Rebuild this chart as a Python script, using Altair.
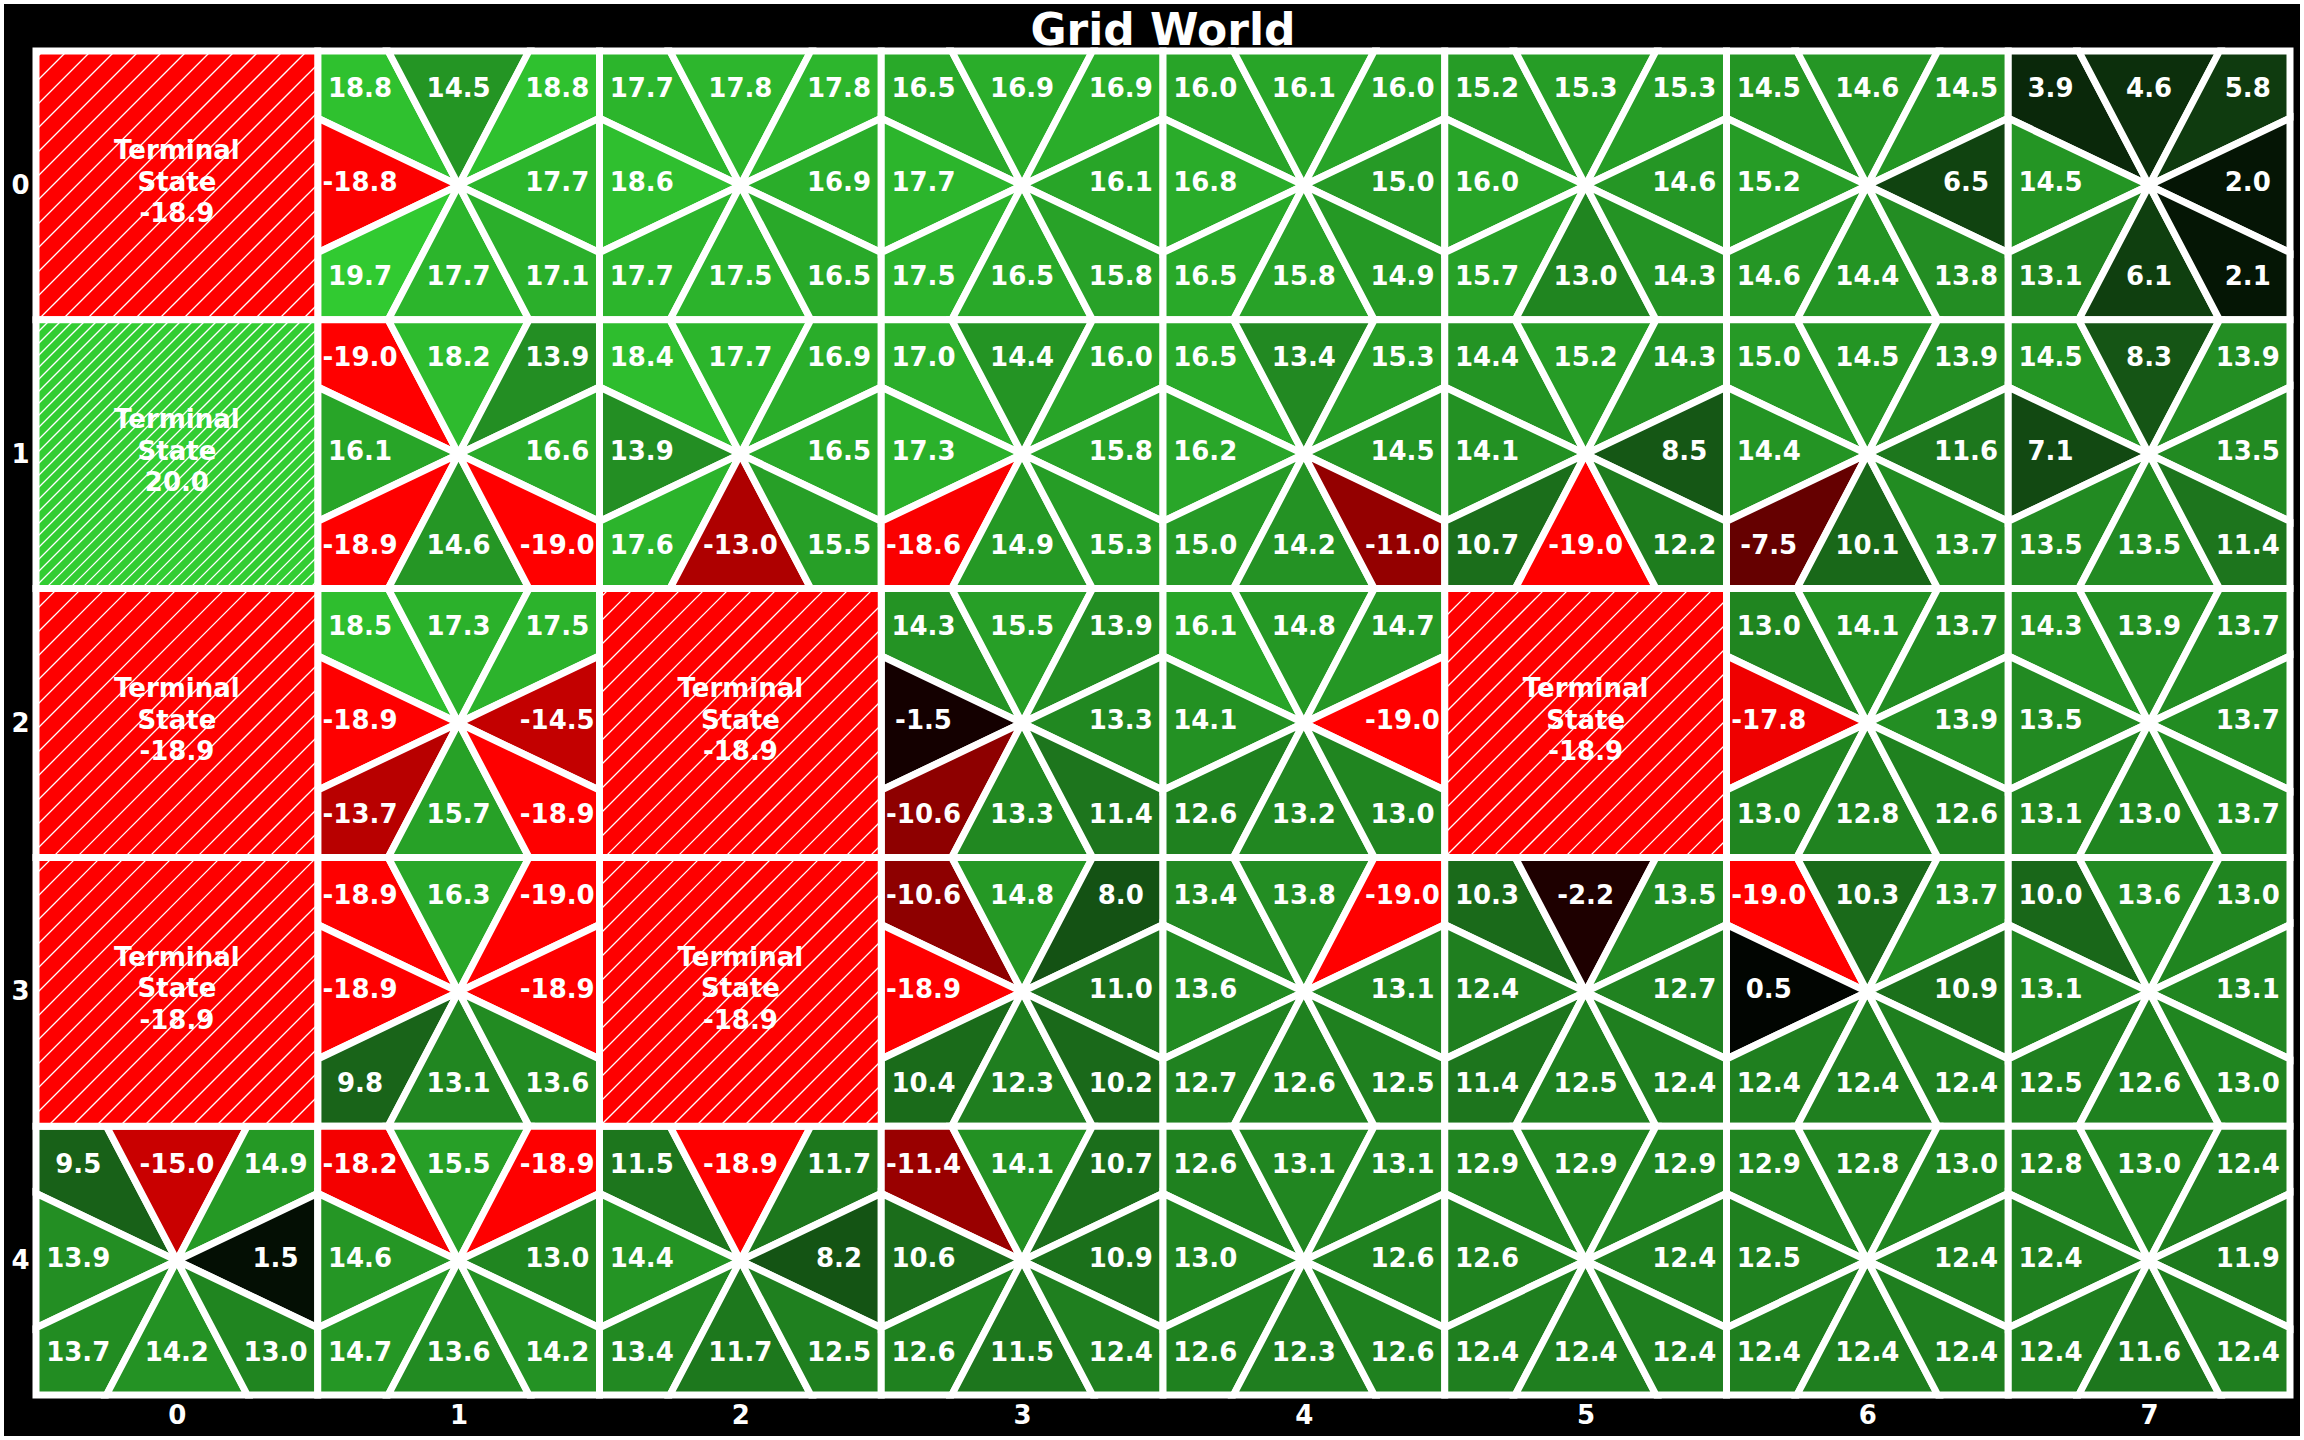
import altair as alt
import pandas as pd

# ---- data: value of each of the 8 regions of a cell, order TL, T, TR, L, R, BL, B, BR ----
# None marks a terminal cell
row_0 = [None,
         [18.8, 14.5, 18.8, -18.8, 17.7, 19.7, 17.7, 17.1],
         [17.7, 17.8, 17.8, 18.6, 16.9, 17.7, 17.5, 16.5],
         [16.5, 16.9, 16.9, 17.7, 16.1, 17.5, 16.5, 15.8],
         [16.0, 16.1, 16.0, 16.8, 15.0, 16.5, 15.8, 14.9],
         [15.2, 15.3, 15.3, 16.0, 14.6, 15.7, 13.0, 14.3],
         [14.5, 14.6, 14.5, 15.2, 6.5, 14.6, 14.4, 13.8],
         [3.9, 4.6, 5.8, 14.5, 2.0, 13.1, 6.1, 2.1]]
row_1 = [None,
         [-19.0, 18.2, 13.9, 16.1, 16.6, -18.9, 14.6, -19.0],
         [18.4, 17.7, 16.9, 13.9, 16.5, 17.6, -13.0, 15.5],
         [17.0, 14.4, 16.0, 17.3, 15.8, -18.6, 14.9, 15.3],
         [16.5, 13.4, 15.3, 16.2, 14.5, 15.0, 14.2, -11.0],
         [14.4, 15.2, 14.3, 14.1, 8.5, 10.7, -19.0, 12.2],
         [15.0, 14.5, 13.9, 14.4, 11.6, -7.5, 10.1, 13.7],
         [14.5, 8.3, 13.9, 7.1, 13.5, 13.5, 13.5, 11.4]]
row_2 = [None,
         [18.5, 17.3, 17.5, -18.9, -14.5, -13.7, 15.7, -18.9],
         None,
         [14.3, 15.5, 13.9, -1.5, 13.3, -10.6, 13.3, 11.4],
         [16.1, 14.8, 14.7, 14.1, -19.0, 12.6, 13.2, 13.0],
         None,
         [13.0, 14.1, 13.7, -17.8, 13.9, 13.0, 12.8, 12.6],
         [14.3, 13.9, 13.7, 13.5, 13.7, 13.1, 13.0, 13.7]]
row_3 = [None,
         [-18.9, 16.3, -19.0, -18.9, -18.9, 9.8, 13.1, 13.6],
         None,
         [-10.6, 14.8, 8.0, -18.9, 11.0, 10.4, 12.3, 10.2],
         [13.4, 13.8, -19.0, 13.6, 13.1, 12.7, 12.6, 12.5],
         [10.3, -2.2, 13.5, 12.4, 12.7, 11.4, 12.5, 12.4],
         [-19.0, 10.3, 13.7, 0.5, 10.9, 12.4, 12.4, 12.4],
         [10.0, 13.6, 13.0, 13.1, 13.1, 12.5, 12.6, 13.0]]
row_4 = [[9.5, -15.0, 14.9, 13.9, 1.5, 13.7, 14.2, 13.0],
         [-18.2, 15.5, -18.9, 14.6, 13.0, 14.7, 13.6, 14.2],
         [11.5, -18.9, 11.7, 14.4, 8.2, 13.4, 11.7, 12.5],
         [-11.4, 14.1, 10.7, 10.6, 10.9, 12.6, 11.5, 12.4],
         [12.6, 13.1, 13.1, 13.0, 12.6, 12.6, 12.3, 12.6],
         [12.9, 12.9, 12.9, 12.6, 12.4, 12.4, 12.4, 12.4],
         [12.9, 12.8, 13.0, 12.5, 12.4, 12.4, 12.4, 12.4],
         [12.8, 13.0, 12.4, 12.4, 11.9, 12.4, 11.6, 12.4]]
rows = [row_0, row_1, row_2, row_3, row_4]

terminal_cells = [(0, 0), (1, 0), (2, 0), (2, 2), (2, 5), (3, 0), (3, 2)]
terminal_values = [-18.9, 20.0, -18.9, -18.9, -18.9, -18.9, -18.9]

col_ticks = [0, 1, 2, 3, 4, 5, 6, 7]
row_ticks = [0, 1, 2, 3, 4]
title_text = "Grid World"

# ---- layout (pixels) ----
W, H = 2254, 1344
PAD_L, PAD_T = 36, 51
PAD_R, PAD_B = 2304 - PAD_L - W, 1440 - PAD_T - H
NC, NR = len(col_ticks), len(row_ticks)
sx, sy = W / NC, H / NR
FONT = "DejaVu Sans"

# region geometry (outer vertices relative to cell centre), same order as values
regions = [
    [(-0.5, -0.25), (-0.5, -0.5), (-0.25, -0.5)],   # TL
    [(-0.25, -0.5), (0.25, -0.5)],                  # T
    [(0.25, -0.5), (0.5, -0.5), (0.5, -0.25)],      # TR
    [(-0.5, 0.25), (-0.5, -0.25)],                  # L
    [(0.5, -0.25), (0.5, 0.25)],                    # R
    [(-0.25, 0.5), (-0.5, 0.5), (-0.5, 0.25)],      # BL
    [(0.25, 0.5), (-0.25, 0.5)],                    # B
    [(0.5, 0.25), (0.5, 0.5), (0.25, 0.5)],         # BR
]
label_dirs = [(-1, -1), (0, -1), (1, -1), (-1, 0), (1, 0), (-1, 1), (0, 1), (1, 1)]
LOFF = 0.35

poly_rows, text_rows, term_rows, hatch_rows = [], [], [], []
pid = 0
for r, row in enumerate(rows):
    for c, cell in enumerate(row):
        if cell is None:
            continue
        for i, v in enumerate(cell):
            pts = [(0.0, 0.0)] + regions[i] + [(0.0, 0.0)]
            for k, (dx, dy) in enumerate(pts):
                poly_rows.append({"x": c + dx, "y": r + dy, "k": k, "pid": pid, "val": v})
            pid += 1
            ldx, ldy = label_dirs[i]
            text_rows.append({"x": c + ldx * LOFF, "y": r + ldy * LOFF, "label": f"{v:.1f}"})

for (r, c), v in zip(terminal_cells, terminal_values):
    pts = [(-0.5, -0.5), (0.5, -0.5), (0.5, 0.5), (-0.5, 0.5), (-0.5, -0.5)]
    for k, (dx, dy) in enumerate(pts):
        poly_rows.append({"x": c + dx, "y": r + dy, "k": k, "pid": pid, "val": v})
    pid += 1
    term_rows.append({"x": c, "y": r, "label": f"Terminal\nState\n{v:.1f}"})
    # hatch lines at 45 degrees in pixel space
    spacing = 12 if v > 0 else 24
    X0, X1 = PAD_L + c * sx, PAD_L + (c + 1) * sx
    Y0, Y1 = PAD_T + r * sy, PAD_T + (r + 1) * sy
    C = (int((X0 + Y0) // spacing) + 1) * spacing - 2
    while C < X1 + Y1:
        if C > X0 + Y0:
            if C - Y1 >= X0:
                ax, ay = C - Y1, Y1
            else:
                ax, ay = X0, C - X0
            if C - Y0 <= X1:
                bx, by = C - Y0, Y0
            else:
                bx, by = X1, C - X1
            hatch_rows.append({
                "x": (ax - PAD_L) / sx - 0.5, "y": (ay - PAD_T) / sy - 0.5,
                "x2": (bx - PAD_L) / sx - 0.5, "y2": (by - PAD_T) / sy - 0.5,
            })
        C += spacing

poly_df = pd.DataFrame(poly_rows)
text_df = pd.DataFrame(text_rows)
term_df = pd.DataFrame(term_rows)
hatch_df = pd.DataFrame(hatch_rows)

xscale = alt.Scale(domain=[-0.5, 7.5], nice=False, zero=False)
yscale = alt.Scale(domain=[-0.5, 4.5], nice=False, zero=False, reverse=True)
axis_common = dict(labelFont=FONT, labelFontSize=26, labelFontWeight="bold",
                   labelColor="white", ticks=False, tickSize=0, domain=False,
                   grid=False, title=None, labelPadding=7, zindex=1,
                   labelFlush=False, labelOverlap=False, format="d")
xaxis = alt.Axis(values=col_ticks, **axis_common)
yaxis = alt.Axis(values=row_ticks, **axis_common)

one = pd.DataFrame({"a": [0]})
backdrop = alt.Chart(one).mark_rect(color="black").encode(
    x=alt.value(-(PAD_L - 4)), x2=alt.value(W + PAD_R - 4),
    y=alt.value(-(PAD_T - 4)), y2=alt.value(H + PAD_B - 4),
)

polys = alt.Chart(poly_df).mark_line(
    stroke="white", strokeWidth=7, strokeJoin="miter", strokeCap="square"
).encode(
    x=alt.X("x:Q", scale=xscale, axis=xaxis),
    y=alt.Y("y:Q", scale=yscale, axis=yaxis),
    detail="pid:N",
    order="k:Q",
    fill=alt.Fill("val:Q", legend=None,
                  scale=alt.Scale(domain=[-19.0, 0.0, 20.0],
                                  range=["#ff0000", "#000000", "#32cd32"],
                                  interpolate="rgb")),
)

hatch = alt.Chart(hatch_df).mark_rule(color="white", strokeWidth=1.3).encode(
    x=alt.X("x:Q", scale=xscale), y=alt.Y("y:Q", scale=yscale), x2="x2:Q", y2="y2:Q"
)

texts = alt.Chart(text_df).mark_text(
    font=FONT, fontSize=26, fontWeight="bold", color="white",
    align="center", baseline="middle", dy=-2
).encode(
    x=alt.X("x:Q", scale=xscale), y=alt.Y("y:Q", scale=yscale), text="label:N"
)

term_texts = alt.Chart(term_df).mark_text(
    font=FONT, fontSize=26, fontWeight="bold", color="white",
    align="center", baseline="middle", lineBreak="\n", lineHeight=31.5, dy=-34
).encode(
    x=alt.X("x:Q", scale=xscale), y=alt.Y("y:Q", scale=yscale), text="label:N"
)

title = alt.Chart(one).mark_text(
    font=FONT, fontSize=44, fontWeight="bold", color="white",
    align="center", baseline="alphabetic"
).encode(x=alt.value(W / 2), y=alt.value(-6), text=alt.value(title_text))

chart = alt.layer(backdrop, polys, hatch, texts, term_texts, title).properties(
    width=W, height=H,
    padding={"left": PAD_L, "top": PAD_T, "right": PAD_R, "bottom": PAD_B},
    autosize=alt.AutoSizeParams(type="none"),
    background="white",
).configure_view(stroke="white", strokeWidth=7)

chart.save("out.html", embed_options={"renderer": "svg", "actions": False})
